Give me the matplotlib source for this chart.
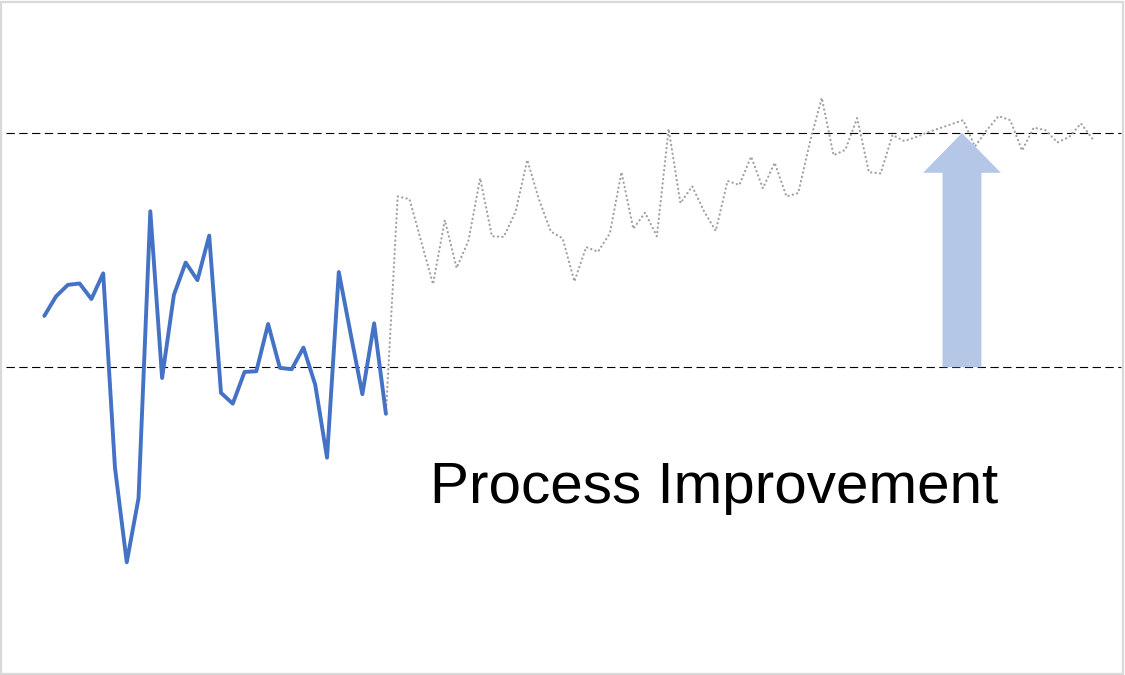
import numpy as np
import matplotlib
matplotlib.use("Agg")
import matplotlib.pyplot as plt
from matplotlib.patches import Rectangle

# readings taken before the change (solid blue)
before = [53.2, 56.1, 57.8, 58.0, 55.7, 59.5, 30.7, 16.7, 26.2, 68.7,
          44.0, 56.3, 61.1, 58.5, 65.1, 41.8, 40.2, 44.9, 45.0, 52.0,
          45.5, 45.3, 48.5, 43.0, 32.2, 59.7, 50.6, 41.6, 52.1, 38.7]

# readings after the change (dotted grey)
after = [70.9, 70.5, 64.2, 57.9, 67.4, 60.3, 64.3, 73.6, 65.0, 64.9,
         68.6, 76.3, 70.4, 65.7, 64.7, 58.3, 63.4, 62.7, 65.4, 74.5,
         66.1, 68.5, 65.0, 80.9, 69.9, 72.4, 68.7, 65.8, 73.2, 72.6,
         76.8, 72.1, 75.9, 70.9, 71.4, 79.0, 85.5, 77.0, 77.8, 82.5,
         74.5, 74.3, 80.0, 79.1, 79.7, 80.4, 81.0, 81.6, 82.2, 78.3,
         80.7, 82.8, 82.2, 77.7, 81.1, 80.7, 78.9, 79.7, 81.7, 79.4]

upper_limit = 80.3
lower_limit = 45.6
label = "Process Improvement"

fig = plt.figure(figsize=(11.25, 6.75), dpi=100)
ax = fig.add_axes([0, 0, 1, 1])
ax.set_xlim(-3.76, 91.74)
ax.set_ylim(0, 100)
ax.axis("off")

n_before = len(before)
x_before = np.arange(n_before)
x_after = np.arange(n_before - 1, n_before + len(after))

ax.plot(x_after, [before[-1]] + after, color="#a0a0a0", lw=1.6,
        linestyle=(0, (0.1, 1.9)), dash_capstyle="round", zorder=2)
ax.plot(x_before, before, color="#4472c4", lw=2.8,
        solid_joinstyle="round", solid_capstyle="round", zorder=3)

for lim in (upper_limit, lower_limit):
    ax.axhline(lim, xmin=0.005, xmax=0.996, color="black", lw=0.8,
               linestyle=(0, (7.5, 4)), zorder=1)

# big arrow from lower to upper limit
ax.arrow(77.9, lower_limit, 0, upper_limit - lower_limit, width=3.3,
         head_width=6.6, head_length=5.9, length_includes_head=True,
         color="#b4c7e7", lw=0, zorder=4)

fig.text(430 / 1125, 1 - 503 / 675, label, fontsize=42,
         family="Liberation Sans", color="black", ha="left", va="baseline")

# light frame around the picture
fig.patches.append(Rectangle((0.001, 0.0015), 0.997, 0.996, transform=fig.transFigure,
                             fill=False, edgecolor="#d9d9d9", lw=1.6))

fig.savefig("out.png", dpi=100)
